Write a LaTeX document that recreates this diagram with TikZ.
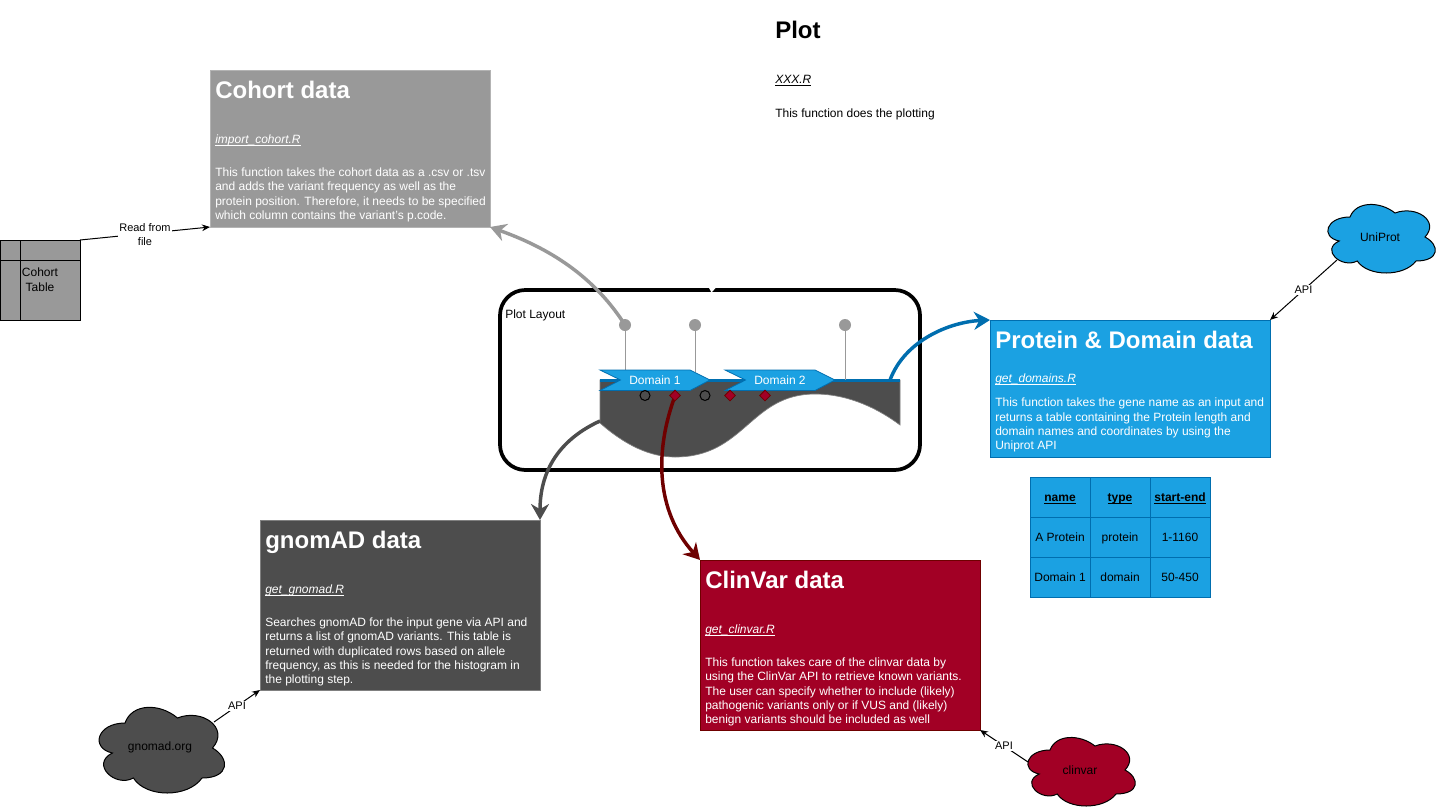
\documentclass[tikz,border=0pt]{standalone}
\usepackage{fontspec}
\setmainfont{Liberation Sans}
\usetikzlibrary{arrows.meta, positioning, shapes.geometric}
\definecolor{cohortgray}{HTML}{999999}
\definecolor{cohortline}{HTML}{B3B3B3}
\definecolor{gnomaddark}{HTML}{4D4D4D}
\definecolor{gnomadline}{HTML}{808080}
\definecolor{uniblue}{HTML}{1BA1E2}
\definecolor{uniline}{HTML}{006EAF}
\definecolor{clinred}{HTML}{A20025}
\definecolor{clinline}{HTML}{6F0000}
\newcommand{\fileref}[1]{$\underline{\smash{\mbox{\itshape #1}}}$}
\newcommand{\headref}[1]{$\underline{\smash{\mbox{\bfseries #1}}}$}
\newcommand{\cloudoutline}{(0.25,0.25) .. controls (0.05,0.25) and (0,0.5) .. (0.16,0.55)
    .. controls (0,0.66) and (0.18,0.9) .. (0.31,0.8)
    .. controls (0.4,1) and (0.7,1) .. (0.8,0.8)
    .. controls (1,0.8) and (1,0.6) .. (0.875,0.5)
    .. controls (1,0.3) and (0.8,0.1) .. (0.625,0.2)
    .. controls (0.5,0.05) and (0.3,0.05) .. (0.25,0.25) -- cycle}
\tikzstyle{databox} = [draw, rectangle, anchor=north west, inner sep=0pt,
    outer sep=0pt, line width=.75pt, minimum width=210pt]
\tikzstyle{boxtitle} = [anchor=north west, inner sep=0pt,
    font=\fontsize{18}{21.6}\selectfont\bfseries]
\tikzstyle{boxfile} = [anchor=base west, inner sep=0pt,
    font=\fontsize{9}{10.75}\selectfont]
\tikzstyle{boxbody} = [anchor=north west, inner sep=0pt, align=left,
    font=\fontsize{9}{10.75}\selectfont]
\tikzstyle{plaintext} = [inner sep=0pt, align=center,
    font=\fontsize{9}{10.75}\selectfont]
\tikzstyle{edgelabel} = [fill=white, inner sep=1pt, align=center,
    font=\fontsize{8.25}{10.75}\selectfont]
\tikzstyle{thinarrow} = [->, black, line width=.75pt]
\tikzstyle{fatarrow} = [->, line width=2.6pt, >={Stealth[length=12pt,width=13.5pt]}]
\tikzstyle{pinhead} = [circle, fill=cohortgray, inner sep=0pt, minimum size=9pt]
\tikzstyle{pinline} = [draw=cohortgray, line width=.75pt]
\tikzstyle{domainstep} = [fill=uniblue, draw=uniline, line width=.6pt]
\tikzstyle{domainname} = [inner sep=0pt, text=white, font=\fontsize{9}{10.75}\selectfont]
\tikzstyle{benign} = [circle, draw=black, line width=.75pt, inner sep=0pt, minimum size=7.5pt]
\tikzstyle{patho} = [diamond, aspect=1, fill=clinred, draw=clinline, line width=.6pt,
    inner sep=0pt, minimum size=8.25pt]
\tikzstyle{cloudline} = [draw=black, line width=.75pt]
\tikzstyle{tablecell} = [draw=uniline, fill=uniblue, rectangle, inner sep=0pt, outer sep=0pt,
    line width=.75pt, minimum width=45pt, minimum height=30pt,
    text height=7.5pt, text depth=1.5pt,
    font=\fontsize{9}{10.75}\selectfont]

\begin{document}
\begin{tikzpicture}[x=.75pt, y=-.75pt, >={Stealth[length=6pt,width=5pt]}]
    \useasboundingbox (0,0) rectangle (1441,811);

    % plot heading
    \node[boxtitle] (plottitle) at (775,21) {Plot};
    \node[boxfile] (plotfile) at (775,83) {\fileref{XXX.R}};
    \node[boxfile] (plotbody) at (775,117) {This function does the plotting};

    % data boxes
    \node[databox, fill=cohortgray, draw=cohortline, minimum height=117.75pt] (cohort) at (210,70) {};
    \node[boxtitle, text=white] (cohorttitle) at (215,81) {Cohort data};
    \node[boxfile, text=white] (cohortfile) at (215,143) {\fileref{import\_cohort.R}};
    \node[boxbody, text=white] (cohortbody) at (215,167.5) {This function takes the cohort data as a .csv or .tsv\\
        and adds the variant frequency as well as the\\
        protein position. Therefore, it needs to be specified\\
        which column contains the variant's p.code.};

    \node[databox, fill=uniblue, draw=uniline, minimum height=102.75pt] (protein) at (990,320) {};
    \node[boxtitle, text=white] (proteintitle) at (995,331) {Protein \& Domain data};
    \node[boxfile, text=white] (proteinfile) at (995,382) {\fileref{get\_domains.R}};
    \node[boxbody, text=white] (proteinbody) at (995,398) {This function takes the gene name as an input and\\
        returns a table containing the Protein length and\\
        domain names and coordinates by using the\\
        Uniprot API};

    \node[databox, fill=gnomaddark, draw=gnomadline, minimum height=127.5pt] (gnomad) at (260,520) {};
    \node[boxtitle, text=white] (gnomadtitle) at (265,531) {gnomAD data};
    \node[boxfile, text=white] (gnomadfile) at (265,593) {\fileref{get\_gnomad.R}};
    \node[boxbody, text=white] (gnomadbody) at (265,617.5) {Searches gnomAD for the input gene via API and\\
        returns a list of gnomAD variants. This table is\\
        returned with duplicated rows based on allele\\
        frequency, as this is needed for the histogram in\\
        the plotting step.};

    \node[databox, fill=clinred, draw=clinline, minimum height=127.5pt] (clinvar) at (700,560) {};
    \node[boxtitle, text=white] (clinvartitle) at (705,571) {ClinVar data};
    \node[boxfile, text=white] (clinvarfile) at (705,633) {\fileref{get\_clinvar.R}};
    \node[boxbody, text=white] (clinvarbody) at (705,657.5) {This function takes care of the clinvar data by\\
        using the ClinVar API to retrieve known variants.\\
        The user can specify whether to include (likely)\\
        pathogenic variants only or if VUS and (likely)\\
        benign variants should be included as well};

    % plot layout
    \node[draw=black, rectangle, rounded corners=19pt, line width=2.8pt, fill=white,
        anchor=north west, inner sep=0pt, outer sep=0pt,
        minimum width=315pt, minimum height=135pt] (layout) at (500,290) {};
    \fill[white] (708.5,287) -- (716.5,287) -- (711.5,292.5) -- cycle;
    \node[plaintext, anchor=west] (layoutname) at (505,315) {Plot Layout};

    \draw[draw=gnomadline, fill=gnomaddark, line width=.5pt] (600,380) -- (900,380) -- (900,425)
        .. controls (880,410) and (850,394) .. (815,394)
        .. controls (750,394) and (745,457) .. (675,457)
        .. controls (650,457) and (625,445) .. (600,423) -- cycle;

    \node[pinhead] (pinone) at (625,325) {};
    \node[pinhead] (pintwo) at (695,325) {};
    \node[pinhead] (pinthree) at (845,325) {};
    \draw[pinline] (pinone) -- (625,372);
    \draw[pinline] (pintwo) -- (695,372);
    \draw[uniline, line width=2.25pt] (600,380) -- (900,380);
    \draw[pinline] (pinthree) -- (845,380);

    \draw[domainstep] (600,370) -- (690,370) -- (710,380) -- (690,390.5) -- (600,390.5) -- (620.5,380) -- cycle;
    \node[domainname] (domainone) at (655,380) {Domain 1};
    \draw[domainstep] (725,370) -- (815,370) -- (835,380) -- (815,390.5) -- (725,390.5) -- (745.5,380) -- cycle;
    \node[domainname] (domaintwo) at (780,380) {Domain 2};

    \node[benign] (cohortvarone) at (645,395.5) {};
    \node[benign] (cohortvartwo) at (705,395.5) {};

    % thick arrows out of the plot
    \coordinate (gnomadstart) at (600,421);
    \coordinate (proteinstart) at (890,380);
    \coordinate (clinvarstart) at (675,396);
    \draw[fatarrow, cohortgray] (pinone.center) .. controls (590,270) and (540,245) .. (cohort.south east);
    \draw[fatarrow, gnomaddark] (gnomadstart) .. controls (565,437) and (540,465) .. (gnomad.north east);
    \draw[fatarrow, clinline] (clinvarstart) .. controls (655,450) and (655,510) .. (clinvar.north west);
    \draw[fatarrow, uniline] (proteinstart) .. controls (905,340) and (950,322) .. (protein.north west);

    \node[patho] (clinvarone) at (675,395.5) {};
    \node[patho] (clinvartwo) at (730,395.5) {};
    \node[patho] (clinvarthree) at (765,395.5) {};

    % cohort table
    \node[draw=black, rectangle, fill=cohortgray, anchor=north west, inner sep=0pt, outer sep=0pt,
        line width=.75pt, minimum width=60pt, minimum height=60pt, align=center,
        font=\fontsize{9}{11.25}\selectfont] (cohorttable) at (0,240) {Cohort\\Table};
    \draw[line width=.75pt] (20,240) -- (20,320);
    \draw[line width=.75pt] (0,260) -- (80,260);
    \draw[thinarrow] (cohorttable.north east) -- node[edgelabel, yshift=-.75pt] {Read from\\file} (cohort.south west);

    % clouds
    \draw[cloudline, fill=uniblue, shift={(1320,197)}, xscale=120, yscale=80] \cloudoutline;
    \node[plaintext] (uniprot) at (1380,237) {UniProt};
    \draw[cloudline, fill=gnomaddark, shift={(90,698)}, xscale=140, yscale=100] \cloudoutline;
    \node[plaintext] (gnomadorg) at (160,747) {gnomad.org};
    \draw[cloudline, fill=clinred, shift={(1020,730)}, xscale=120, yscale=80] \cloudoutline;
    \node[plaintext] (clinvarsite) at (1080,770) {clinvar};

    \coordinate (uniprotout) at (1337,260);
    \coordinate (gnomadout) at (214,722);
    \coordinate (clinvarout) at (1028,762);
    \draw[thinarrow] (uniprotout) -- node[edgelabel] {API} (protein.north east);
    \draw[thinarrow] (gnomadout) -- node[edgelabel] {API} (gnomad.south west);
    \draw[thinarrow] (clinvarout) -- node[edgelabel] {API} (clinvar.south east);

    % result table
    \foreach \col/\posx/\txt in {a/1060/name, b/1120/type, c/1180/start-end}
        \node[tablecell] (head\col) at (\posx,497) {\headref{\txt}};
    \foreach \col/\posx/\txt in {a/1060/A Protein, b/1120/protein, c/1180/1-1160}
        \node[tablecell] (rowone\col) at (\posx,537) {\txt};
    \foreach \col/\posx/\txt in {a/1060/Domain 1, b/1120/domain, c/1180/50-450}
        \node[tablecell] (rowtwo\col) at (\posx,577) {\txt};
\end{tikzpicture}
\end{document}
